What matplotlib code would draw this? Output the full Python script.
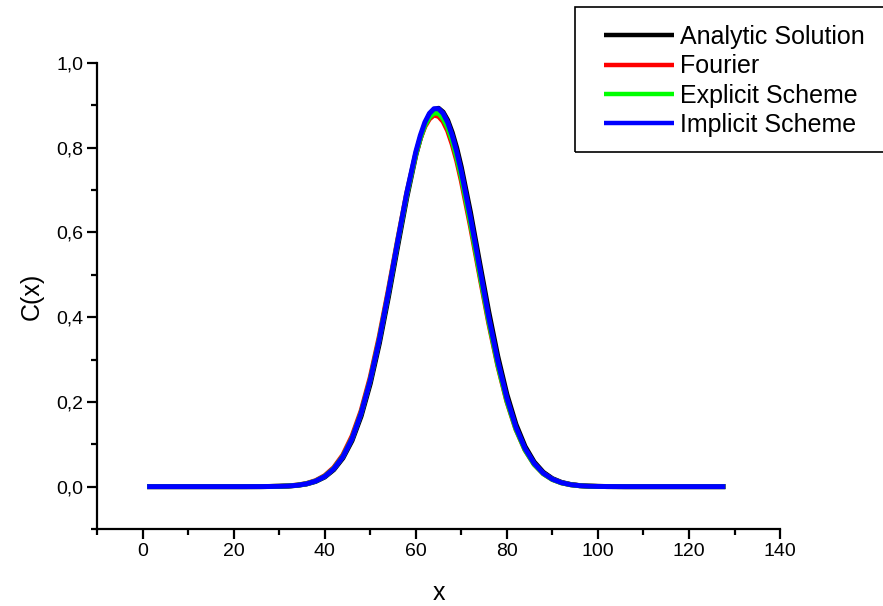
import matplotlib
matplotlib.use("Agg")
import matplotlib.pyplot as plt
from matplotlib.ticker import MultipleLocator, FuncFormatter
from matplotlib.patches import Rectangle

plt.rcParams['font.family'] = ['Liberation Sans', 'DejaVu Sans']

# grille en x et profils C(x) des quatre methodes
x = [1, 8, 16, 22, 26, 28, 30, 32, 34, 36, 38, 40, 42, 44, 46, 48, 50, 52, 54, 56, 58,
     60, 61, 62, 63, 64, 65, 66, 67, 68, 69, 70, 72, 74, 76, 78, 80, 82, 84, 86, 88,
     90, 92, 94, 96, 98, 100, 102, 106, 112, 120, 128]

analytique = [0.0, 0.0, 0.0, 0.0, 0.0001, 0.0003, 0.0006, 0.0014, 0.0030, 0.0062, 0.0122,
              0.0226, 0.0401, 0.0676, 0.1086, 0.1665, 0.243, 0.338, 0.448, 0.566, 0.681,
              0.782, 0.822, 0.855, 0.878, 0.890, 0.893, 0.884, 0.865, 0.836, 0.799, 0.754,
              0.648, 0.530, 0.414, 0.308, 0.218, 0.147, 0.0947, 0.0581, 0.0339,
              0.0189, 0.0100, 0.0051, 0.0024, 0.0011, 0.0005, 0.0002, 0.0, 0.0, 0.0, 0.0]

fourier = [0.0, 0.0, 0.0, 0.0, 0.0001, 0.0003, 0.0008, 0.0017, 0.0036, 0.0073, 0.0141,
           0.0258, 0.045, 0.0748, 0.119, 0.179, 0.258, 0.355, 0.465, 0.581, 0.692,
           0.785, 0.822, 0.850, 0.868, 0.877, 0.874, 0.862, 0.840, 0.808, 0.769, 0.722,
           0.615, 0.500, 0.387, 0.286, 0.201, 0.135, 0.0864, 0.0526, 0.0306,
           0.0169, 0.0090, 0.0045, 0.0022, 0.0010, 0.0004, 0.0002, 0.0, 0.0, 0.0, 0.0]

explicite = [0.0, 0.0, 0.0, 0.0, 0.0001, 0.0003, 0.0007, 0.0016, 0.0033, 0.0068, 0.0131,
             0.0243, 0.0427, 0.0716, 0.114, 0.174, 0.252, 0.349, 0.459, 0.577, 0.689,
             0.785, 0.823, 0.853, 0.872, 0.882, 0.881, 0.869, 0.848, 0.817, 0.777, 0.731,
             0.623, 0.506, 0.392, 0.289, 0.203, 0.136, 0.0868, 0.0527, 0.0306,
             0.0169, 0.0089, 0.0045, 0.0021, 0.0010, 0.0004, 0.0002, 0.0, 0.0, 0.0, 0.0]

implicite = [0.0, 0.0, 0.0, 0.0, 0.0001, 0.0003, 0.0007, 0.0015, 0.0032, 0.0066, 0.0129,
             0.0238, 0.0420, 0.0705, 0.113, 0.173, 0.251, 0.347, 0.459, 0.577, 0.692,
             0.790, 0.829, 0.860, 0.881, 0.892, 0.892, 0.881, 0.860, 0.829, 0.790, 0.744,
             0.636, 0.518, 0.401, 0.297, 0.209, 0.140, 0.0899, 0.0548, 0.0318,
             0.0176, 0.0093, 0.0046, 0.0022, 0.0010, 0.0004, 0.0002, 0.0, 0.0, 0.0, 0.0]

series = [
    (analytique, "Analytic Solution", "black"),
    (fourier, "Fourier", "#ff0000"),
    (explicite, "Explicit Scheme", "#00ff00"),
    (implicite, "Implicit Scheme", "#0000ff"),
]

fig = plt.figure(figsize=(8.83, 6.06), dpi=100)
ax = fig.add_axes([0.1099, 0.1271, 0.7735, 0.7690])

for valeurs, nom, couleur in series:
    ax.plot(x, valeurs, color=couleur, lw=3.6, label=nom, solid_capstyle='butt')

ax.set_xlim(-10, 140)
ax.set_ylim(-0.1, 1.0)
ax.xaxis.set_major_locator(MultipleLocator(20))
ax.xaxis.set_minor_locator(MultipleLocator(10))
ax.yaxis.set_major_locator(MultipleLocator(0.2))
ax.yaxis.set_minor_locator(MultipleLocator(0.1))
ax.xaxis.set_major_formatter(FuncFormatter(lambda v, _: f"{v:.0f}"))
ax.yaxis.set_major_formatter(FuncFormatter(lambda v, _: f"{v:.1f}".replace('.', ',')))

for cote in ['top', 'right']:
    ax.spines[cote].set_visible(False)
for cote in ['left', 'bottom']:
    ax.spines[cote].set_linewidth(1.6)

ax.tick_params(which='major', direction='out', length=7, width=1.6, labelsize=14, pad=3)
ax.tick_params(which='minor', direction='out', length=4, width=1.6)

ax.set_xlabel("x", fontsize=18, labelpad=15)
ax.set_ylabel("C(x)", fontsize=18, labelpad=9)

# cadre de la legende, qui deborde a droite de la figure
fig.patches.append(Rectangle((575 / 883, 1 - 152 / 606), 0.4, 145 / 606,
                             transform=fig.transFigure, fill=False,
                             edgecolor='black', lw=1.2))

handles, labels = ax.get_legend_handles_labels()
leg = fig.legend(handles, labels, loc='upper left',
                 bbox_to_anchor=(604 / 883, 1 - 25 / 606),
                 frameon=False, fontsize=18, borderpad=0, borderaxespad=0,
                 handlelength=2.8, handletextpad=0.25, labelspacing=0.21)
for ligne in leg.get_lines():
    ligne.set_linewidth(3.2)

fig.savefig("out.png", dpi=100)
plt.close(fig)
